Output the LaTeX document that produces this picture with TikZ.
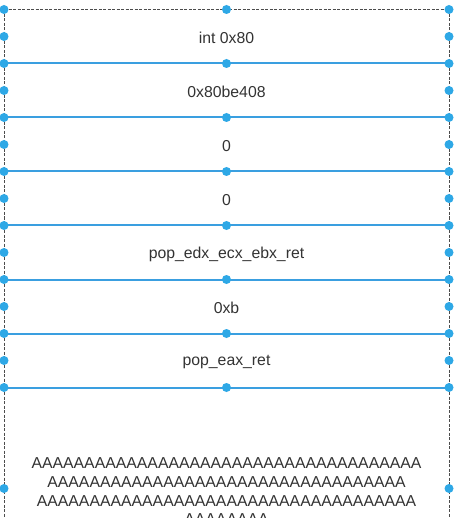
\documentclass[tikz,border=0pt]{standalone}
\usepackage{fontspec}
\setmainfont{Liberation Sans}
\definecolor{selblue}{HTML}{2EA8E6}
\definecolor{lineblue}{HTML}{3A9FE0}
\definecolor{txt}{HTML}{333333}
\begin{document}
\begin{tikzpicture}[x=1pt,y=-1pt,
  handle/.style={circle,fill=selblue,inner sep=0pt,minimum size=9pt},
  rowline/.style={draw=lineblue,line width=2pt},
  frame/.style={draw=black!70,line width=0.7pt,dash pattern=on 3pt off 1.5pt},
  lbl/.style={text=txt,font=\fontsize{15.8}{18.7}\selectfont,inner sep=0pt}]
\useasboundingbox (0,0) rectangle (465,518);
\fill[white] (0,0) rectangle (465,518);
\clip (0,0) rectangle (465,518);
% row boundaries
\foreach \i in {0,...,7}{
  \coordinate (L\i) at (4,{9.5+54*\i});
  \coordinate (R\i) at (449,{9.5+54*\i});
  \coordinate (C\i) at (226.5,{9.5+54*\i});
}
\coordinate (LB) at (4,589);
\coordinate (RB) at (449,589);
\foreach \i in {1,...,7}{
  \draw[rowline] (L\i) -- (R\i);
}
\draw[frame] (L0) -- (R0);
\draw[frame] (L0) -- (LB);
\draw[frame] (R0) -- (RB);
% labels
\node[lbl] (t0) at (226.5,38) {int 0x80};
\node[lbl] (t1) at (226.5,92) {0x80be408};
\node[lbl] (t2) at (226.5,146) {0};
\node[lbl] (t3) at (226.5,200) {0};
\node[lbl] (t4) at (226.5,254) {pop\_edx\_ecx\_ebx\_ret};
\node[lbl] (t5) at (226.5,308) {0xb};
\node[lbl] (t6) at (226.5,362) {pop\_eax\_ret};
\node[lbl,align=center] (tA) at (226.5,491.5) {AAAAAAAAAAAAAAAAAAAAAAAAAAAAAAAAAAAAA\\AAAAAAAAAAAAAAAAAAAAAAAAAAAAAAAAAA\\AAAAAAAAAAAAAAAAAAAAAAAAAAAAAAAAAAAA\\AAAAAAAA};
% handles
\foreach \i in {0,...,7}{
  \node[handle] (hL\i) at (L\i) {};
  \node[handle] (hR\i) at (R\i) {};
  \node[handle] (hC\i) at (C\i) {};
}
\foreach \i in {0,...,6}{
  \node[handle] (mL\i) at (4,{36.5+54*\i}) {};
  \node[handle] (mR\i) at (449,{36.5+54*\i}) {};
}
\node[handle] (mL7) at (4,488.5) {};
\node[handle] (mR7) at (449,488.5) {};
\end{tikzpicture}
\end{document}
